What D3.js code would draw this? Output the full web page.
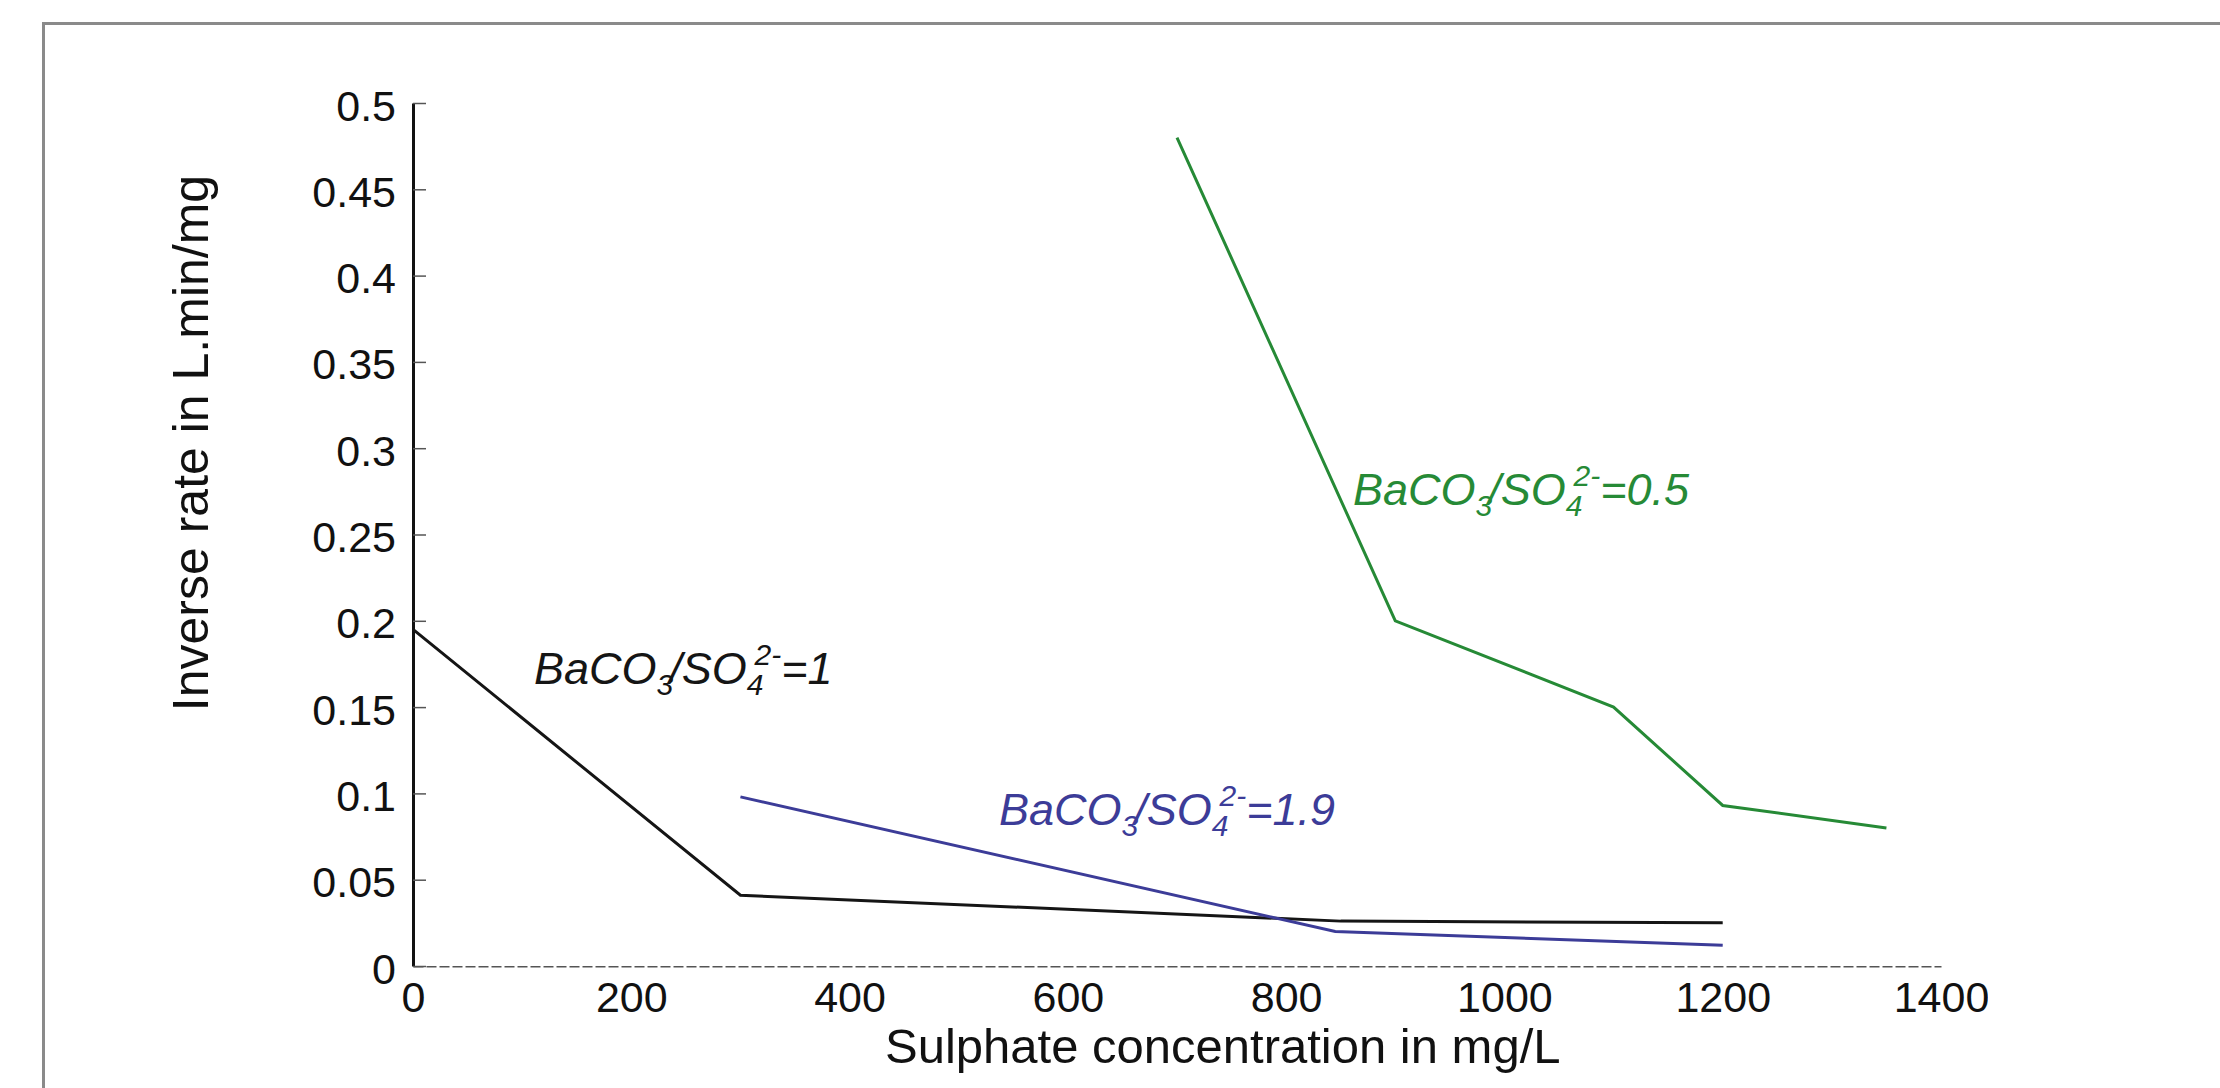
<!DOCTYPE html>
<html>
<head>
<meta charset="utf-8">
<script src="https://cdn.jsdelivr.net/npm/d3@7"></script>
<style>
  body { margin: 0; background: #fff; }
  svg { display: block; font-family: "Liberation Sans", Arial, sans-serif; }
</style>
</head>
<body>
<div id="chart"></div>
<script>
// Data
const ratio1X = [0, 300, 850, 1200];
const ratio1Y = [0.195, 0.041, 0.026, 0.025];

const ratio19X = [300, 845, 1200];
const ratio19Y = [0.098, 0.020, 0.012];

const ratio05X = [700, 900, 1100, 1200, 1350];
const ratio05Y = [0.48, 0.20, 0.15, 0.093, 0.080];

const xTicks = [0, 200, 400, 600, 800, 1000, 1200, 1400];
const yTicks = [0, 0.05, 0.1, 0.15, 0.2, 0.25, 0.3, 0.35, 0.4, 0.45, 0.5];

const width = 2220, height = 1088;
const plotLeft = 413, plotRight = 1941, plotTop = 103, plotBottom = 966;

const svg = d3.select("#chart")
    .append("svg")
    .attr("width", width)
    .attr("height", height);

// frame (top and left edge only, like the scanned figure)
svg.append("path")
    .attr("d", "M43.5,1088V23.5H2220")
    .attr("fill", "none")
    .attr("stroke", "#8a8a8a")
    .attr("stroke-width", 3);

// Scales
const xScale = d3.scaleLinear().domain([0, 1400]).range([plotLeft, plotRight]);
const yScale = d3.scaleLinear().domain([0, 0.5]).range([plotBottom, plotTop]);

svg.append("defs").append("clipPath")
    .attr("id", "clip")
    .append("rect")
    .attr("x", 0).attr("y", 0)
    .attr("width", 1988).attr("height", height);

// x axis
const xAxis = d3.axisBottom(xScale)
    .tickValues(xTicks)
    .tickSizeInner(-13)
    .tickSizeOuter(0)
    .tickPadding(0)
    .tickFormat(d => String(d));

const gx = svg.append("g")
    .attr("transform", "translate(0," + plotBottom + ")")
    .attr("clip-path", "url(#clip)")
    .call(xAxis);

gx.select(".domain")
    .attr("stroke", "#555")
    .attr("stroke-width", 2)
    .attr("stroke-dasharray", "10,3");
gx.selectAll(".tick line").attr("stroke", "#555").attr("stroke-width", 1.5);
gx.selectAll(".tick text")
    .attr("y", 46)
    .attr("dy", 0)
    .attr("fill", "#111")
    .style("font-size", "43px");

// y axis
const yAxis = d3.axisLeft(yScale)
    .tickValues(yTicks)
    .tickSizeInner(-13)
    .tickSizeOuter(0)
    .tickPadding(0)
    .tickFormat(d => String(d));

const gy = svg.append("g")
    .attr("transform", "translate(" + plotLeft + ",0)")
    .call(yAxis);

gy.select(".domain").attr("stroke", "#111").attr("stroke-width", 3);
gy.selectAll(".tick line").attr("stroke", "#555").attr("stroke-width", 1.5);
gy.selectAll(".tick text")
    .attr("x", -17)
    .attr("dy", 17)
    .attr("fill", "#111")
    .style("font-size", "43px");

// Axis titles
svg.append("text")
    .attr("x", 885)
    .attr("y", 1063)
    .attr("fill", "#111")
    .style("font-size", "49px")
    .text("Sulphate concentration in mg/L");

svg.append("text")
    .attr("transform", "translate(208,443) rotate(-90)")
    .attr("text-anchor", "middle")
    .attr("fill", "#111")
    .style("font-size", "50px")
    .text("Inverse rate in L.min/mg");

// Lines
const line = d3.line()
    .x(d => xScale(d[0]))
    .y(d => yScale(d[1]));

const series = [
    { xs: ratio1X, ys: ratio1Y, color: "#151515" },
    { xs: ratio19X, ys: ratio19Y, color: "#3c3c98" },
    { xs: ratio05X, ys: ratio05Y, color: "#268a36" }
];

series.forEach(s => {
    svg.append("path")
        .datum(s.xs.map((x, i) => [x, s.ys[i]]))
        .attr("fill", "none")
        .attr("stroke", s.color)
        .attr("stroke-width", 3)
        .attr("stroke-linejoin", "miter")
        .attr("d", line);
});

// Annotations: BaCO3/SO4^2- = value
function ratioLabel(x, y, value, color) {
    const t = svg.append("text")
        .attr("x", x)
        .attr("y", y)
        .attr("fill", color)
        .style("font-size", "45px")
        .style("font-style", "italic");
    t.append("tspan").text("BaCO");
    t.append("tspan").attr("dy", 11).style("font-size", "30px").text("3");
    t.append("tspan").attr("dy", -11).attr("dx", -4).text("/SO");
    t.append("tspan").attr("dy", 11).style("font-size", "30px").text("4");
    t.append("tspan").attr("dy", -30).attr("dx", -9).style("font-size", "30px").text("2-");
    t.append("tspan").attr("dy", 19).text("=" + value);
}

ratioLabel(534, 684, "1", "#151515");
ratioLabel(999, 825, "1.9", "#3c3c98");
ratioLabel(1353, 505, "0.5", "#268a36");
</script>
</body>
</html>
